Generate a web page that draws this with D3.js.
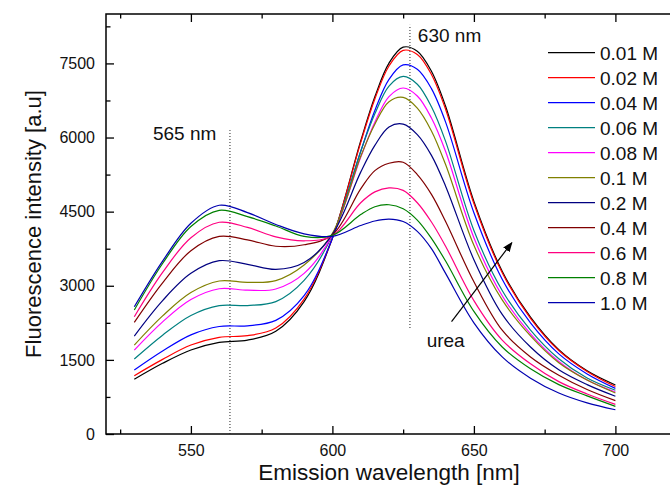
<html>
<head>
<script src="https://cdn.jsdelivr.net/npm/d3@7"></script>
<style>
    body { margin: 0; background: #fff; }
    svg { font-family: "Liberation Sans", Arial, sans-serif; }
</style>
</head>
<body>
<svg id="chart"></svg>
<script>
const wavelengths = [530, 540, 550, 560, 570, 580, 590, 600, 610, 615, 620, 625, 630, 635, 640, 650, 660, 670, 680, 690, 700]

// urea concentrations
const labels = ["0.01 M", "0.02 M", "0.04 M", "0.06 M", "0.08 M", "0.1 M", "0.2 M", "0.4 M", "0.6 M", "0.8 M", "1.0 M"]

// fluorescence intensity [a.u] per concentration
const urea001 = [1107, 1430, 1700, 1855, 1900, 2080, 2680, 3960, 5930, 6825, 7507, 7829, 7748, 7342, 6633, 4707, 3295, 2364, 1705, 1279, 991]
const urea002 = [1180, 1510, 1800, 1957, 1990, 2145, 2730, 3970, 5897, 6779, 7448, 7764, 7681, 7277, 6573, 4664, 3264, 2342, 1690, 1267, 960]
const urea004 = [1295, 1680, 2007, 2176, 2190, 2300, 2800, 3960, 5717, 6546, 7177, 7469, 7383, 6990, 6312, 4477, 3132, 2248, 1621, 1216, 924]
const urea006 = [1517, 2000, 2399, 2599, 2600, 2680, 3110, 4020, 5720, 6480, 7042, 7236, 7079, 6622, 5923, 4119, 2903, 2103, 1522, 1133, 885]
const urea008 = [1699, 2270, 2721, 2940, 2910, 2935, 3250, 4030, 5600, 6310, 6829, 7002, 6841, 6394, 5716, 3972, 2798, 2027, 1467, 1092, 850]
const urea01  = [1800, 2390, 2863, 3097, 3070, 3105, 3420, 4060, 5620, 6270, 6724, 6812, 6596, 6134, 5453, 3820, 2713, 1985, 1443, 1092, 830]
const urea02  = [1983, 2700, 3251, 3507, 3433, 3330, 3470, 4040, 5300, 5840, 6214, 6272, 6060, 5639, 5016, 3527, 2420, 1760, 1300, 1000, 765]
const urea04  = [2260, 3060, 3709, 3999, 3930, 3800, 3830, 4030, 4960, 5330, 5480, 5500, 5250, 4850, 4300, 3080, 2100, 1560, 1190, 900, 675]
const urea06  = [2373, 3270, 3972, 4285, 4181, 3990, 3910, 4010, 4680, 4900, 4980, 4930, 4680, 4290, 3800, 2700, 1900, 1420, 1060, 810, 600]
const urea08  = [2509, 3450, 4199, 4527, 4399, 4210, 4000, 4020, 4440, 4600, 4640, 4560, 4330, 3960, 3500, 2480, 1760, 1320, 1000, 771, 560]
const urea10  = [2575, 3500, 4265, 4630, 4481, 4240, 4050, 4000, 4220, 4310, 4350, 4300, 4100, 3750, 3250, 2250, 1560, 1130, 830, 630, 490]

const series = [urea001, urea002, urea004, urea006, urea008, urea01, urea02, urea04, urea06, urea08, urea10]

// Origin-like line colours, same order as labels
const colors = ["#000000", "#ff0000", "#0000ff", "#008080", "#ff00ff", "#808000", "#000080", "#800000", "#ff0080", "#008000", "#0000b0"]

const xMajor = [550, 600, 650, 700]
const xMinor = [525, 575, 625, 675, 725]
const yMajor = [0, 1500, 3000, 4500, 6000, 7500]
const yMinor = [750, 2250, 3750, 5250, 6750, 8250]

const WIDTH = 670
const HEIGHT = 497
const PLOT = {left: 106, right: 672, top: 14, bottom: 434}

const svg = d3.select("#chart")
    .attr("width", WIDTH)
    .attr("height", HEIGHT)

const x = d3.scaleLinear().domain([520, 720]).range([PLOT.left, PLOT.right])
const y = d3.scaleLinear().domain([0, 8500]).range([PLOT.bottom, PLOT.top])

// frame
svg.append("rect")
    .attr("x", PLOT.left)
    .attr("y", PLOT.top)
    .attr("width", PLOT.right - PLOT.left)
    .attr("height", PLOT.bottom - PLOT.top)
    .attr("fill", "none")
    .attr("stroke", "#000")
    .attr("stroke-width", 1.5)

function styleAxis(g) {
    g.select(".domain").remove()
    g.selectAll("line").attr("stroke", "#000").attr("stroke-width", 1.3)
    g.selectAll("text").attr("font-size", 16).attr("fill", "#111")
}

// bottom axis
svg.append("g")
    .attr("transform", `translate(0,${PLOT.bottom})`)
    .call(d3.axisBottom(x).tickValues(xMajor).tickSize(-8).tickPadding(11).tickFormat(d3.format("d")))
    .call(styleAxis)
svg.append("g")
    .attr("transform", `translate(0,${PLOT.bottom})`)
    .call(d3.axisBottom(x).tickValues(xMinor).tickSize(-4.5).tickFormat(""))
    .call(styleAxis)

// top axis (ticks only)
svg.append("g")
    .attr("transform", `translate(0,${PLOT.top})`)
    .call(d3.axisTop(x).tickValues(xMajor).tickSize(-8).tickFormat(""))
    .call(styleAxis)
svg.append("g")
    .attr("transform", `translate(0,${PLOT.top})`)
    .call(d3.axisTop(x).tickValues(xMinor).tickSize(-4.5).tickFormat(""))
    .call(styleAxis)

// left axis
svg.append("g")
    .attr("transform", `translate(${PLOT.left},0)`)
    .call(d3.axisLeft(y).tickValues(yMajor).tickSize(-8).tickPadding(11).tickFormat(d3.format("d")))
    .call(styleAxis)
svg.append("g")
    .attr("transform", `translate(${PLOT.left},0)`)
    .call(d3.axisLeft(y).tickValues(yMinor).tickSize(-4.5).tickFormat(""))
    .call(styleAxis)

// axis titles
svg.append("text")
    .attr("x", (PLOT.left + 672) / 2)
    .attr("y", 480)
    .attr("text-anchor", "middle")
    .attr("font-size", 22.5)
    .attr("fill", "#111")
    .text("Emission wavelength [nm]")

svg.append("text")
    .attr("transform", `translate(41,${(PLOT.top + PLOT.bottom) / 2}) rotate(-90)`)
    .attr("text-anchor", "middle")
    .attr("font-size", 22)
    .attr("fill", "#111")
    .text("Fluorescence intensity [a.u]")

// dotted marker lines at the two bands
const markers = [
    {nm: 563.8, from: 0, to: 6150, label: "565 nm", lx: 536.6, ly: 5950},
    {nm: 627.4, from: 2145, to: 8280, label: "630 nm", lx: 630.2, ly: 7934}
]
markers.forEach(m => {
    svg.append("line")
        .attr("x1", x(m.nm)).attr("x2", x(m.nm))
        .attr("y1", y(m.from)).attr("y2", y(m.to))
        .attr("stroke", "#222")
        .attr("stroke-width", 1)
        .attr("stroke-dasharray", "1,2")
    svg.append("text")
        .attr("x", x(m.lx))
        .attr("y", y(m.ly))
        .attr("font-size", 19)
        .attr("fill", "#111")
        .text(m.label)
})

// spectra
const line = d3.line()
    .x((d, i) => x(wavelengths[i]))
    .y(d => y(d))
    .curve(d3.curveCatmullRom.alpha(0.5))

svg.append("g")
    .selectAll("path")
    .data(series)
    .join("path")
        .attr("fill", "none")
        .attr("stroke", (d, i) => colors[i])
        .attr("stroke-width", 1.2)
        .attr("d", line)

// urea arrow
svg.append("defs").append("marker")
    .attr("id", "head")
    .attr("viewBox", "0 0 10 10")
    .attr("refX", 9).attr("refY", 5)
    .attr("markerWidth", 10).attr("markerHeight", 10)
    .attr("markerUnits", "userSpaceOnUse")
    .attr("orient", "auto")
    .append("path")
        .attr("d", "M0,1 L10,5 L0,9 Z")
        .attr("fill", "#000")

svg.append("line")
    .attr("x1", x(642.1)).attr("y1", y(2273))
    .attr("x2", x(663.4)).attr("y2", y(3872))
    .attr("stroke", "#000")
    .attr("stroke-width", 1.2)
    .attr("marker-end", "url(#head)")

svg.append("text")
    .attr("x", x(633.3))
    .attr("y", y(1761))
    .attr("font-size", 19)
    .attr("fill", "#111")
    .text("urea")

// legend
const legend = svg.append("g")
    .selectAll("g")
    .data(labels)
    .join("g")
        .attr("transform", (d, i) => `translate(548,${52.7 + i * 25})`)

legend.append("line")
    .attr("x1", 0).attr("x2", 47)
    .attr("stroke", (d, i) => colors[i])
    .attr("stroke-width", 1.2)

legend.append("text")
    .attr("x", 52)
    .attr("dy", "0.36em")
    .attr("font-size", 19)
    .attr("fill", "#111")
    .text(d => d)
</script>
</body>
</html>
